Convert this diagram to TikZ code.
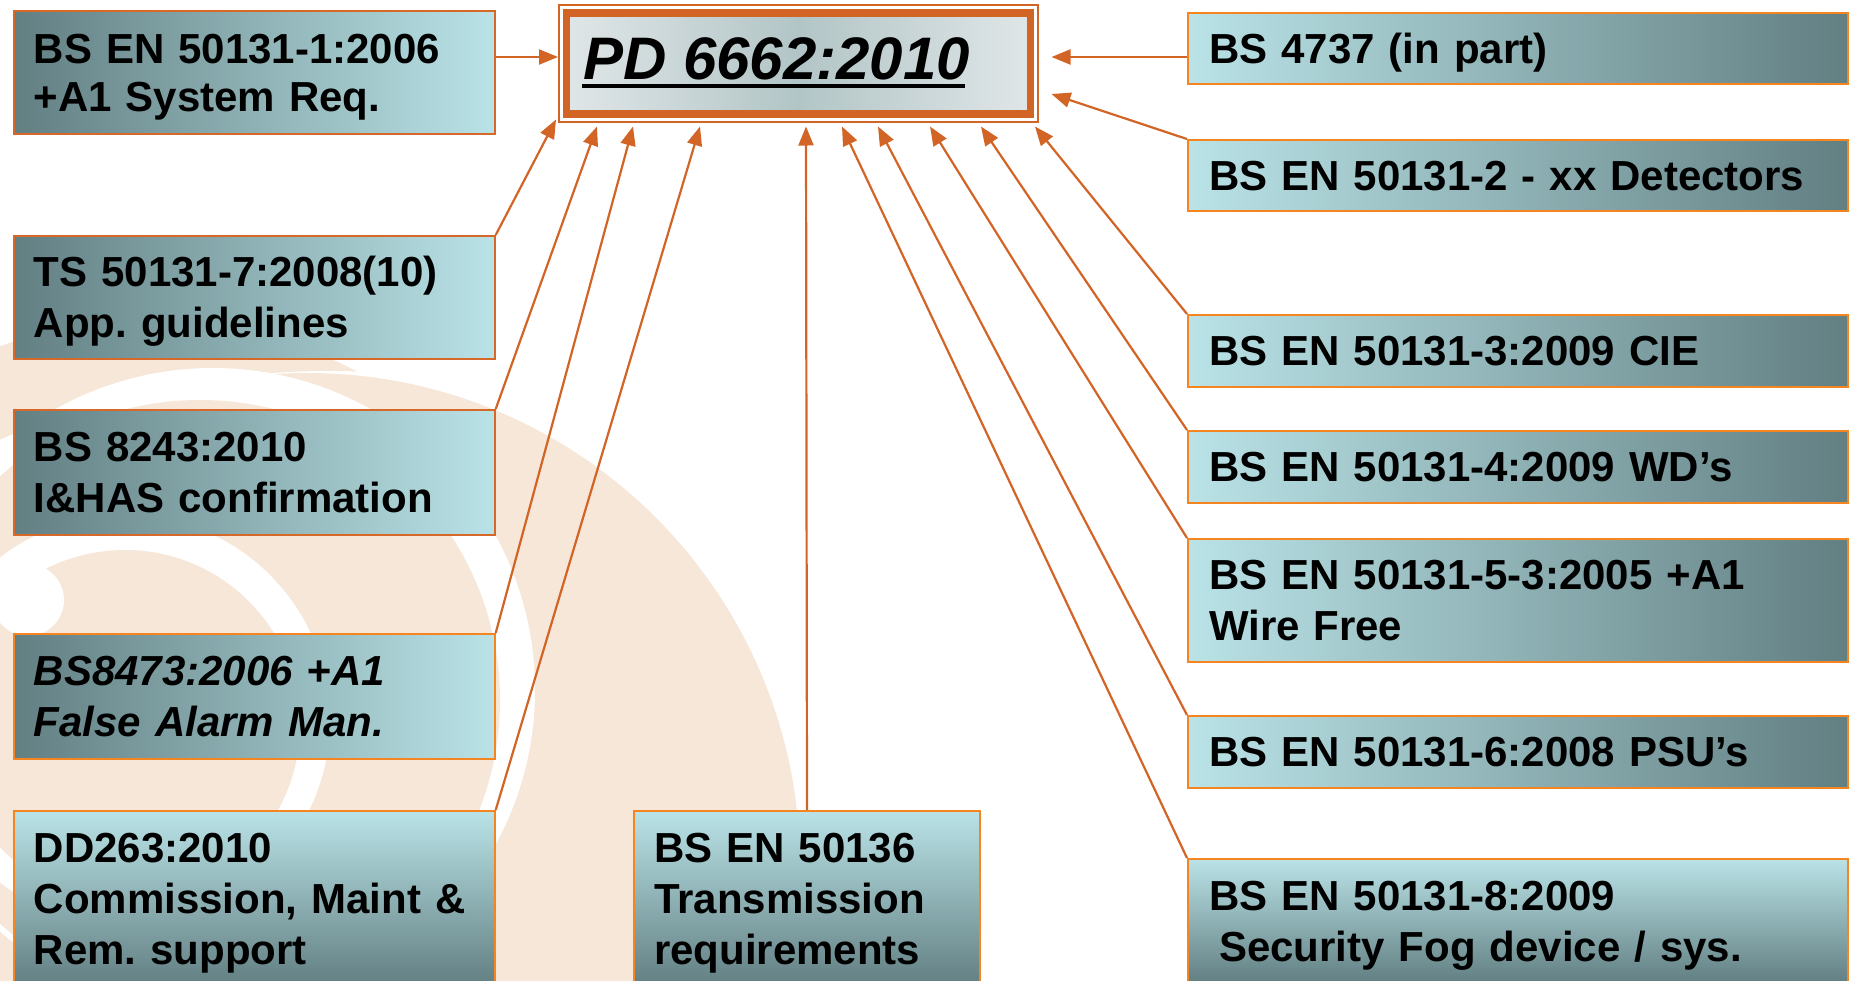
\documentclass[tikz,border=0pt]{standalone}
\usepackage{fontspec}
\setmainfont{Liberation Sans}
\usetikzlibrary{arrows.meta,calc}
\definecolor{beige}{RGB}{246,231,216}
\definecolor{tdark}{RGB}{98,127,130}
\definecolor{tlight}{RGB}{186,227,231}
\definecolor{orA}{RGB}{214,104,42}
\definecolor{orB}{RGB}{245,133,32}
\definecolor{arrC}{RGB}{210,100,38}
\definecolor{mEdge}{RGB}{224,230,232}
\definecolor{mMid}{RGB}{178,197,198}
\newcommand\st{\rule[-9pt]{0pt}{47pt}}
\newcommand\bxf{\fontsize{42}{51}\selectfont\bfseries\frenchspacing}
\begin{document}
\begin{tikzpicture}[x=1pt,y=-1pt,
  box/.style={rectangle, line width=2pt, inner ysep=0pt, align=left, anchor=north west, font=\bxf},
  lbox/.style={box, text width=441pt, inner xsep=20pt},
  rbox/.style={box, draw=orB, text width=618pt, inner xsep=21pt},
  hdark/.style={left color=tdark, right color=tlight},
  hlight/.style={left color=tlight, right color=tdark},
  vgrad/.style={top color=tlight, bottom color=tdark},
  arr/.style={draw=arrC, line width=2.2pt, -{Triangle[length=19pt,width=15pt]}},
  bg/.style={fill=beige},
  wh/.style={fill=white}
]
\useasboundingbox (0,0) rectangle (1850,980);
\fill[white] (0,0) rectangle (1850,980);
% background swirl
\begin{scope}
\clip (0,0) rectangle (1850,980);
\fill[bg] (150,760) circle[radius=440pt];
\fill[wh] (330,1195) circle[radius=824pt];
\fill[bg] (307,866) circle[radius=493pt];
\fill[wh] (213,690) circle[radius=322pt];
\fill[bg] (200,700) circle[radius=300pt];
\fill[wh] (125,720) circle[radius=205pt];
\fill[bg] (125,725) circle[radius=175pt];
\fill[wh] (28,600) circle[radius=36pt];
\end{scope}

% main box
\node[draw=arrC, line width=1.5pt, minimum width=479pt, minimum height=117pt, inner sep=0pt, anchor=north west] (main) at (558,4) {};
\node[draw=arrC, line width=7.5pt, minimum width=464pt, minimum height=101pt, inner sep=0pt,
      left color=mEdge, right color=mEdge, middle color=mMid] (mainin) at (main.center) {};
\node[font=\fontsize{60}{72}\selectfont\bfseries\itshape, inner sep=0pt, anchor=base west] (ttl)
      at ($(main.north west)+(25,75)$) {PD 6662:2010};
\draw[line width=3.5pt] ($(ttl.base west)+(-1,7)$) -- ($(ttl.base east)+(-5,7)$);

% left column
\node[lbox, draw=orA, hdark, minimum height=123pt, font=\fontsize{42}{48}\selectfont\bfseries\frenchspacing] (A) at (12.7,10)
  {\st BS EN 50131-1:2006\\\st +A1 System Req.};
\node[lbox, draw=orA, hdark, minimum height=123pt] (TS) at (12.7,235)
  {\st TS 50131-7:2008(10)\\\st App. guidelines};
\node[lbox, draw=orA, hdark, minimum height=125pt] (B8243) at (12.7,409)
  {\st BS 8243:2010\\\st I\&HAS confirmation};
\node[lbox, draw=orB, hdark, minimum height=125pt, font=\bxf\itshape] (B8473) at (12.7,633)
  {\st BS8473:2006 +A1\\\st False Alarm Man.};
\node[lbox, draw=orB, vgrad, minimum height=175pt] (DD) at (12.7,810)
  {\st DD263:2010\\\st Commission, Maint \&\\\st Rem. support};
\node[box, draw=orB, vgrad, text width=306pt, inner xsep=20pt, minimum height=175pt] (T50136) at (633,810)
  {\st BS EN 50136\\\st Transmission\\\st requirements};

% right column
\node[rbox, hlight, minimum height=71pt] (R0) at (1187,12) {\st BS 4737 (in part)};
\node[rbox, hlight, minimum height=71pt] (R2) at (1187,139) {\st BS EN 50131-2 - xx Detectors};
\node[rbox, hlight, minimum height=72pt] (R3) at (1187,314) {\st BS EN 50131-3:2009 CIE};
\node[rbox, hlight, minimum height=72pt] (R4) at (1187,430) {\st BS EN 50131-4:2009 WD’s};
\node[rbox, hlight, minimum height=123pt] (R5) at (1187,538) {\st BS EN 50131-5-3:2005 +A1\\\st Wire Free};
\node[rbox, hlight, minimum height=72pt] (R6) at (1187,715) {\st BS EN 50131-6:2008 PSU’s};
\node[rbox, vgrad, minimum height=124pt] (R8) at (1187,858) {\st BS EN 50131-8:2009\\\st\hspace*{10pt}Security Fog device / sys.};

% connectors
\draw[arr] ($(A.north east)+(0,47)$) -- ($(main.north west)+(0,53)$);
\draw[arr] (TS.north east) -- ($(main.south west)+(-2,-3)$);
\draw[arr] (B8243.north east) -- ($(main.south west)+(39,4)$);
\draw[arr] (B8473.north east) -- ($(main.south west)+(75,4)$);
\draw[arr] (DD.north east) -- ($(main.south west)+(142,4)$);
\draw[arr] (T50136.north) -- ($(main.south west)+(248,4)$);
\draw[arr] (R8.north west) -- ($(main.south west)+(284,4)$);
\draw[arr] (R6.north west) -- ($(main.south west)+(320,4)$);
\draw[arr] (R5.north west) -- ($(main.south west)+(372,4)$);
\draw[arr] (R4.north west) -- ($(main.south west)+(423,4)$);
\draw[arr] (R3.north west) -- ($(main.south west)+(477,4)$);
\draw[arr] (R2.north west) -- ($(main.north east)+(13,90)$);
\draw[arr] ($(R0.north west)+(0,45)$) -- ($(main.north east)+(13,53)$);
\end{tikzpicture}
\end{document}
